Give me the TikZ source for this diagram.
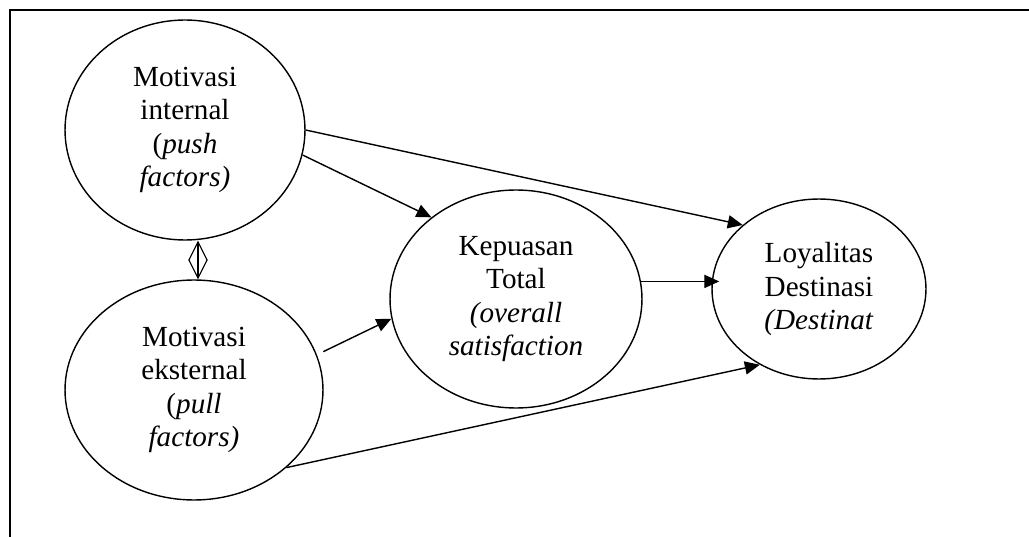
\documentclass[tikz,border=0pt]{standalone}
\usepackage{fontspec}
\setmainfont{Liberation Serif}
\usetikzlibrary{shapes.geometric}
\usetikzlibrary{arrows.meta}

\begin{document}
\begin{tikzpicture}[x=0.02cm,y=-0.02cm,
    konstruk/.style={ellipse,draw,line width=0.8pt,inner sep=0pt,align=center,font=\fontsize{16.6}{19}\selectfont},
    panah/.style={line width=0.8pt,-{Triangle[length=8.5pt,width=7.5pt]}},
    panahdua/.style={line width=0.6pt,{Straight Barb[length=10.5pt,width=10.5pt]}-{Straight Barb[length=10.5pt,width=10.5pt]}}]
                \useasboundingbox (0,0) rectangle (1029,537);

                \coordinate (KiriBawah) at (10,537);
                \coordinate (KananAtas) at (1029,10);
                \draw[line width=1.2pt] (KiriBawah) |- (KananAtas);

                \node[konstruk,minimum width=4.8cm,minimum height=4.4cm] (MotInt) at (185,130) {Motivasi\\internal\\(\textit{push}\\\textit{factors)}};
                \node[konstruk,minimum width=5.16cm,minimum height=4.4cm] (MotEks) at (194,390) {Motivasi\\eksternal\\(\textit{pull}\\\textit{factors)}};
                \node[konstruk,minimum width=5.04cm,minimum height=4.36cm] (Kepuasan) at (516,299) {Kepuasan\\Total\\\textit{(overall}\\\textit{satisfaction}};
                \node[konstruk,minimum width=4.28cm,minimum height=3.6cm] (Loyalitas) at (819,289) {Loyalitas\\Destinasi\\\textit{(Destinat}};

                \draw[panahdua] ([xshift=7.4pt]MotInt.south) -- ([xshift=7.4pt]MotInt.south |- MotEks.north);

                \draw[panah] (MotInt.-12) -- (Kepuasan.136);
                \draw[panah] (MotInt.east) -- (Loyalitas.140);
                \draw[panah,shorten <=4pt] (MotEks.16) -- (Kepuasan.-171);
                \draw[panah] (Kepuasan.8) -- ([xshift=4.5pt]Kepuasan.8 -| Loyalitas.west);
                \draw[panah] (MotEks.-40) -- (Loyalitas.-128);
\end{tikzpicture}
\end{document}
